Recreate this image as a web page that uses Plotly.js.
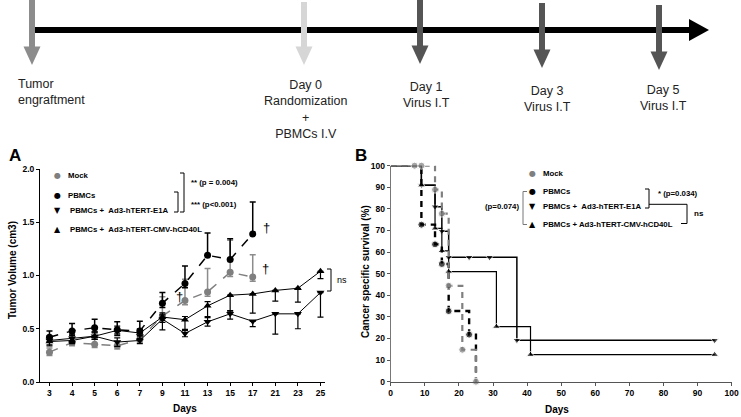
<!DOCTYPE html>
<html><head><meta charset="utf-8">
<script src="https://cdn.plot.ly/plotly-3.0.1.min.js"></script>
<style>html,body{margin:0;padding:0;background:#fff}#chart{width:741px;height:417px}</style>
</head><body><div id="chart"></div>
<script>
// ---------- Panel A: tumor volume ----------
const daysA = ['3','4','5','6','7','9','11','13','15','17','21','23','25'];
const mockVol   = [0.28,0.37,0.355,0.34,0.40,0.62,0.765,0.846,1.03,0.985];
const mockErrUp = [0.04,0.05,0.05,0.04,0.05,0.18,0.20,0.22,0.30,0.21];
const mockErrDn = [0.03,0.03,0.03,0.03,0.03,0.04,0.04,0.04,0.04,0.04];
const pbmcVol   = [0.42,0.48,0.51,0.49,0.48,0.74,0.925,1.19,1.15,1.39];
const pbmcErrUp = [0.06,0.07,0.08,0.075,0.09,0.10,0.165,0.21,0.195,0.30];
const pbmcErrDn = [0.04,0.04,0.04,0.04,0.04,0.04,0.04,0,0,0];
const e1aVol    = [0.39,0.41,0.43,0.375,0.39,0.59,0.455,0.565,0.64,0.57,0.64,0.64,0.84];
const e1aErrUp  = [0.04,0.04,0.04,0.04,0.04,0.04,0.04,0.04,0.03,0,0,0,0];
const e1aErrDn  = [0.04,0.04,0.03,0.04,0.03,0.10,0.03,0.04,0.05,0.05,0.19,0.14,0.23];
const cd40Vol   = [0.38,0.39,0.43,0.485,0.46,0.61,0.585,0.715,0.815,0.827,0.86,0.88,1.04];
const cd40ErrUp = [0.04,0.03,0.03,0.04,0.04,0.04,0.03,0.04,0,0,0,0,0];
const cd40ErrDn = [0.04,0.03,0.03,0.05,0.05,0.05,0.10,0.10,0.15,0.18,0.10,0.13,0.07];

// ---------- Panel B: survival ----------
const mockT = [0,7,9,13,15,17,21,25];
const mockS = [100,100,100,88.9,77.8,44.4,14.8,0];
const pbmcT = [0,9,13,15,17,23,25];
const pbmcS = [100,72.7,63.6,54.5,32.7,21.8,0];
const e1aT  = [0,9,13,15,17,23,29,37,95];
const e1aS  = [100,91,81,69.7,57.6,57.6,57.6,19.2,19.2];
const cd40T = [0,9,13,15,17,31,41,95];
const cd40S = [100,91,71,60.6,51,25.5,12.5,12.5];

const labMock = 'Mock', labPbmc = 'PBMCs';
const labE1A = 'PBMCs +\u00a0\u00a0Ad3-hTERT-E1A';
const labCD40A = 'PBMCs +\u00a0\u00a0Ad3-hTERT-CMV-hCD40L';
const labCD40B = 'PBMCs + Ad3-hTERT-CMV-hCD40L';

const W = 741, H = 417;
const X = p => p / W, Y = p => 1 - p / H;
const FF = 'Liberation Sans, Arial, sans-serif';
const GRAY = '#7f7f7f';

function msize(n, hideFirst, hideLast) {
  const a = new Array(n).fill(7);
  if (hideFirst) a[0] = 0;
  if (hideLast) a[n - 1] = 0;
  return a;
}

const traces = [
  {x: daysA.slice(0, mockVol.length), y: mockVol, mode: 'lines+markers', xaxis: 'x', yaxis: 'y',
   line: {color: GRAY, dash: 'dash', width: 1.5}, marker: {symbol: 'circle', size: 7, color: GRAY},
   error_y: {type: 'data', array: mockErrUp, arrayminus: mockErrDn, color: '#8c8c8c', thickness: 1.5, width: 3}},
  {x: daysA.slice(0, pbmcVol.length), y: pbmcVol, mode: 'lines+markers', xaxis: 'x', yaxis: 'y',
   line: {color: '#000', dash: 'dash', width: 1.5}, marker: {symbol: 'circle', size: 7, color: '#000'},
   error_y: {type: 'data', array: pbmcErrUp, arrayminus: pbmcErrDn, color: '#000', thickness: 1.5, width: 3}},
  {x: daysA, y: e1aVol, mode: 'lines+markers', xaxis: 'x', yaxis: 'y',
   line: {color: '#000', width: 1}, marker: {symbol: 'triangle-down', size: 7, color: '#000'},
   error_y: {type: 'data', array: e1aErrUp, arrayminus: e1aErrDn, color: '#000', thickness: 1.2, width: 3}},
  {x: daysA, y: cd40Vol, mode: 'lines+markers', xaxis: 'x', yaxis: 'y',
   line: {color: '#000', width: 1}, marker: {symbol: 'triangle-up', size: 7, color: '#000'},
   error_y: {type: 'data', array: cd40ErrUp, arrayminus: cd40ErrDn, color: '#000', thickness: 1.2, width: 3}},
  // survival
  {x: e1aT, y: e1aS, mode: 'lines+markers', xaxis: 'x2', yaxis: 'y2', cliponaxis: false,
   line: {color: '#000', width: 1.5, shape: 'hv'},
   marker: {symbol: 'triangle-down', size: msize(e1aT.length, true, false), color: '#000'}},
  {x: cd40T, y: cd40S, mode: 'lines+markers', xaxis: 'x2', yaxis: 'y2', cliponaxis: false,
   line: {color: '#000', width: 1.2, shape: 'hv'},
   marker: {symbol: 'triangle-up', size: msize(cd40T.length, true, false), color: '#000'}},
  {x: pbmcT, y: pbmcS, mode: 'lines+markers', xaxis: 'x2', yaxis: 'y2', cliponaxis: false,
   line: {color: '#000', width: 2.4, dash: '6px,5px', shape: 'hv'},
   marker: {symbol: 'circle', size: msize(pbmcT.length, true, true), color: '#000'}},
  {x: mockT, y: mockS, mode: 'lines+markers', xaxis: 'x2', yaxis: 'y2', cliponaxis: false,
   line: {color: GRAY, width: 2.2, dash: '6px,5px', shape: 'hv'},
   marker: {symbol: 'circle', size: msize(mockT.length, true, false), color: GRAY}}
];

const axFont = {family: FF, size: 8.5, color: '#000', weight: 'bold'};
const baseAx = {showgrid: false, zeroline: false, showline: true, linewidth: 1, ticks: 'outside',
  ticklen: 3, tickwidth: 1, tickfont: axFont, fixedrange: true};

const layout = {
  width: W, height: H, margin: {l: 0, r: 0, t: 0, b: 0},
  paper_bgcolor: '#fff', plot_bgcolor: 'rgba(0,0,0,0)', showlegend: false,
  font: {family: FF, color: '#000'},
  xaxis: Object.assign({}, baseAx, {domain: [X(40), X(325)], anchor: 'y', type: 'category',
    categoryorder: 'array', categoryarray: daysA, range: [-0.42, 12.2], linecolor: '#000', tickcolor: '#000'}),
  yaxis: Object.assign({}, baseAx, {domain: [Y(382), Y(169)], anchor: 'x', range: [0, 2], dtick: 0.5,
    tickformat: '.1f', linecolor: '#000', tickcolor: '#000'}),
  xaxis2: Object.assign({}, baseAx, {domain: [X(390.7), X(731.7)], anchor: 'y2', range: [0, 100], dtick: 10,
    linecolor: '#555', tickcolor: '#555'}),
  yaxis2: Object.assign({}, baseAx, {domain: [Y(381.7), Y(165.7)], anchor: 'x2', range: [0, 100], dtick: 10,
    linecolor: '#777', tickcolor: '#555'}),
  shapes: [], annotations: []
};

// ---------- timeline ----------
const S = layout.shapes, A = layout.annotations;
function pline(x0, y0, x1, y1, color, width) {
  S.push({type: 'line', xref: 'paper', yref: 'paper', x0: X(x0), y0: Y(y0), x1: X(x1), y1: Y(y1),
    line: {color: color, width: width}});
}
function ppath(pts, color, fill, width) {
  const d = 'M' + pts.map(p => X(p[0]) + ',' + Y(p[1])).join(' L') + (fill ? ' Z' : '');
  S.push({type: 'path', xref: 'paper', yref: 'paper', path: d,
    fillcolor: fill ? color : 'rgba(0,0,0,0)', line: {color: color, width: fill ? 0 : width}});
}
pline(32, 30, 692, 30, '#000', 6);
ppath([[689, 19], [709, 30], [689, 41]], '#000', true);
const arrows = [[32, 0, 65, '#8c8c8c'], [304, 2, 65, '#d6d6d6'], [420, 0, 64, '#555'],
                [542, 3, 68, '#555'], [659, 5, 70, '#555']];
arrows.forEach(a => {
  pline(a[0], a[1], a[0], a[2] - 16, a[3], 6);
  ppath([[a[0] - 8.5, a[2] - 18.5], [a[0] + 8.5, a[2] - 18.5], [a[0], a[2]]], a[3], true);
});
function ann(text, x, y, o) {
  A.push(Object.assign({text: text, xref: 'paper', yref: 'paper', x: X(x), y: Y(y), showarrow: false,
    xanchor: 'center', yanchor: 'middle', font: {family: FF, size: 12, color: '#000'}}, o || {}));
}
const tlFont = {family: FF, size: 12.5, color: '#222'};
ann('Tumor<br>engraftment', 16, 92, {xanchor: 'left', align: 'left', font: tlFont});
ann('Day 0<br>Randomization<br>+<br>PBMCs I.V', 305, 109.5, {font: tlFont});
ann('Day 1<br>Virus I.T', 426, 95, {font: tlFont});
ann('Day 3<br>Virus I.T', 547, 99, {font: tlFont});
ann('Day 5<br>Virus I.T', 663, 98, {font: tlFont});

// ---------- panel labels & titles ----------
const bold = (s) => ({family: FF, size: s, color: '#000', weight: 'bold'});
ann('A', 15, 155, {font: bold(17)});
ann('B', 361, 155, {font: bold(17)});
ann('Tumor Volume (cm3)', 12, 270, {textangle: -90, font: bold(10)});
ann('Days', 185, 408, {font: bold(10)});
ann('Cancer specific survival (%)', 365, 272, {textangle: -90, font: bold(10)});
ann('Days', 557, 409, {font: bold(10)});

// ---------- panel A legend ----------
const lf = bold(7.8);
const symA = [['\u25CF', GRAY, 175.7, labMock, 66], ['\u25CF', '#000', 195, labPbmc, 66],
              ['\u25BC', '#000', 211, labE1A, 68], ['\u25B2', '#000', 229.3, labCD40A, 68]];
symA.forEach(s => {
  ann(s[0], 57, s[2], {font: {family: 'DejaVu Sans', size: 8, color: s[1]}});
  ann(s[3], s[4], s[2], {xanchor: 'left', font: lf});
});
ppath([[180, 173], [184, 173], [184, 212], [180, 212]], '#000', false, 1);
ppath([[174, 192], [178, 192], [178, 212], [174, 212]], '#000', false, 1);
ann('** (p = 0.004)', 189, 183, {xanchor: 'left', font: lf});
ann('*** (p<0.001)', 189, 204, {xanchor: 'left', font: lf});
ppath([[327, 269], [331, 269], [331, 291], [327, 291]], '#000', false, 1);
ann('ns', 335, 280, {xanchor: 'left', font: {family: FF, size: 9, color: '#000'}});
// daggers (positioned in data space of panel A)
[[9.6, 1.45], [9.55, 1.07], [5.75, 0.8]].forEach(d => {
  A.push({text: '\u2020', xref: 'x', yref: 'y', x: d[0], y: d[1], showarrow: false, opacity: 0.99,
    font: {family: FF, size: 13, color: '#000000'}});
});

// ---------- panel B legend ----------
const symB = [['\u25CF', GRAY, 173.3, labMock], ['\u25CF', '#000', 191.7, labPbmc],
              ['\u25BC', '#000', 206.7, labE1A], ['\u25B2', '#000', 224.3, labCD40B]];
symB.forEach(s => {
  ann(s[0], 532, s[2], {font: {family: 'DejaVu Sans', size: 8, color: s[1]}});
  ann(s[3], 541, s[2], {xanchor: 'left', font: lf});
});
ppath([[527, 191.5], [523, 191.5], [523, 224.5], [527, 224.5]], '#777', false, 1);
ann('(p=0.074)', 502, 206.7, {font: lf});
ppath([[645, 189], [649, 189], [649, 208], [645, 208]], '#000', false, 1);
pline(649, 204.3, 687, 204.3, '#000', 1);
ppath([[681, 223.5], [687, 223.5], [687, 204.3]], '#000', false, 1);
ann('* (p=0.034)', 656, 193, {xanchor: 'left', font: lf});
ann('ns', 692, 213.5, {xanchor: 'left', font: bold(8)});

Plotly.newPlot('chart', traces, layout, {staticPlot: true, displayModeBar: false});
</script>
</body></html>
